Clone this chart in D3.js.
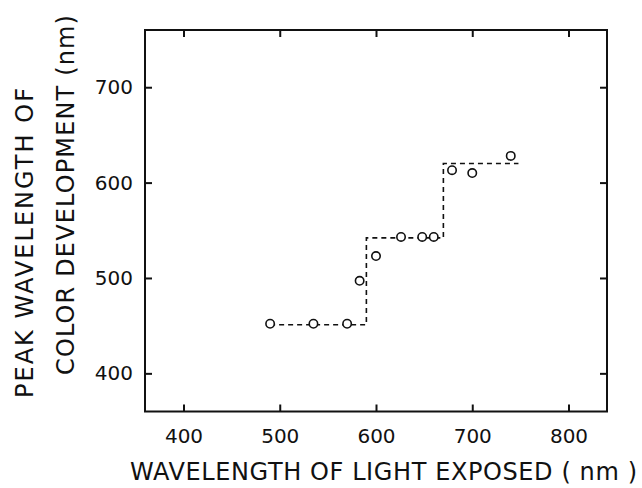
<!DOCTYPE html>
<html>
<head>
<meta charset="utf-8">
<script src="https://cdn.jsdelivr.net/npm/d3@7"></script>
<style>
  body { margin: 0; background: #fff; }
  svg { display: block; }
  text { font-family: "DejaVu Sans", sans-serif; fill: #111; }
</style>
</head>
<body>
<svg id="chart" width="642" height="488"></svg>
<script>
// Data
const exposedWavelength = [490, 535, 570, 583, 600, 626, 648, 660, 679, 700, 740];
const peakWavelength    = [452, 452, 452, 497, 523, 543, 543, 543, 613, 610, 628];
// dashed step line (vertices)
const stepX = [490, 590, 590, 670, 670, 748];
const stepY = [451, 451, 542, 542, 620, 620];
const xTicks = [400, 500, 600, 700, 800];
const yTicks = [400, 500, 600, 700];

(function () {
const svg = d3.select("#chart");
const mL = 145, mR = 607, mT = 30, mB = 411.5;

const x = d3.scaleLinear().domain([360, 840]).range([mL, mR]);
const y = d3.scaleLinear().domain([360, 760]).range([mB, mT]);

const ink = "#111";

// frame
svg.append("rect")
  .attr("x", mL).attr("y", mT)
  .attr("width", mR - mL).attr("height", mB - mT)
  .attr("fill", "none").attr("stroke", ink).attr("stroke-width", 2);

// axes with inward ticks
const tickLen = 7;
const xb = svg.append("g").attr("transform", `translate(0,${mB})`)
  .call(d3.axisBottom(x).tickValues(xTicks).tickSizeInner(-tickLen).tickSizeOuter(0).tickPadding(17));
const xt = svg.append("g").attr("transform", `translate(0,${mT})`)
  .call(d3.axisTop(x).tickValues(xTicks).tickSizeInner(-tickLen).tickSizeOuter(0).tickFormat(""));
const yl = svg.append("g").attr("transform", `translate(${mL},0)`)
  .call(d3.axisLeft(y).tickValues(yTicks).tickSizeInner(-tickLen).tickSizeOuter(0).tickPadding(12));
const yr = svg.append("g").attr("transform", `translate(${mR},0)`)
  .call(d3.axisRight(y).tickValues(yTicks).tickSizeInner(-tickLen).tickSizeOuter(0).tickFormat(""));

[xb, xt, yl, yr].forEach(g => {
  g.select(".domain").remove();
  g.selectAll(".tick line").attr("stroke", ink).attr("stroke-width", 2);
  g.selectAll(".tick text").attr("font-size", 20).attr("font-family", "DejaVu Sans, sans-serif").attr("fill", ink);
});

// dashed step line
const stepPts = stepX.map((v, i) => [x(v), y(stepY[i])]);
svg.append("path")
  .attr("d", d3.line()(stepPts))
  .attr("fill", "none").attr("stroke", ink)
  .attr("stroke-width", 1.6).attr("stroke-dasharray", "5,4");

// circles
svg.append("g").selectAll("circle")
  .data(exposedWavelength.map((v, i) => [v, peakWavelength[i]]))
  .join("circle")
  .attr("cx", d => x(d[0])).attr("cy", d => y(d[1]))
  .attr("r", 4.2)
  .attr("fill", "#fff").attr("stroke", ink).attr("stroke-width", 1.6);

// axis titles
svg.append("text")
  .attr("x", 130).attr("y", 480)
  .attr("font-size", 24)
  .attr("textLength", 507).attr("lengthAdjust", "spacing")
  .text("WAVELENGTH OF LIGHT EXPOSED ( nm )");

svg.append("text")
  .attr("transform", "translate(33,398) rotate(-90)")
  .attr("font-size", 24)
  .attr("textLength", 310).attr("lengthAdjust", "spacing")
  .text("PEAK WAVELENGTH  OF");

svg.append("text")
  .attr("transform", "translate(74,375) rotate(-90)")
  .attr("font-size", 24)
  .attr("textLength", 360).attr("lengthAdjust", "spacing")
  .text("COLOR DEVELOPMENT (nm)");
})();
</script>
</body>
</html>
